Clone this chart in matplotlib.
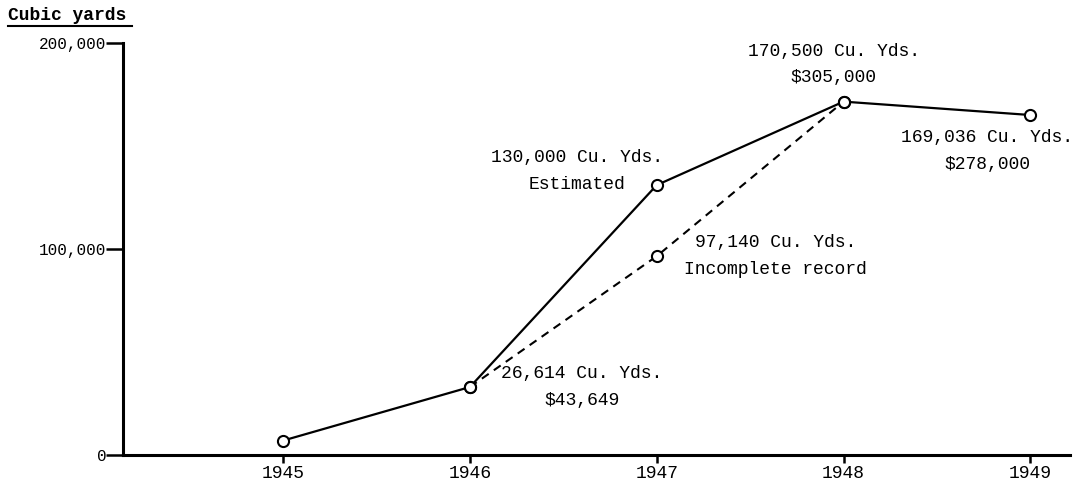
import matplotlib.pyplot as plt
from matplotlib.lines import Line2D

plt.rcParams['font.family'] = 'Liberation Mono'

years = [1945, 1946, 1947, 1948, 1949]
estimated = [7000, 33000, 131000, 171500, 165000]
incomplete_years = [1946, 1947, 1948]
incomplete = [33000, 96500, 171500]

yticks = [0, 100000, 200000]
ytick_labels = ['0', '100,000', '200,000']

fig = plt.figure(figsize=(10.79, 4.82), dpi=100)
ax = fig.add_axes([0.114, 0.056, 0.878, 0.855])

ax.plot(incomplete_years, incomplete, color='black', lw=1.5, ls=(0, (4, 3)),
        marker='o', ms=8, mfc='white', mec='black', mew=1.5, zorder=2)
ax.plot(years, estimated, color='black', lw=1.6,
        marker='o', ms=8, mfc='white', mec='black', mew=1.5, zorder=3)

ax.set_xlim(1944.143, 1949.214)
ax.set_ylim(0, 200000)

for s in ['top', 'right']:
    ax.spines[s].set_visible(False)
for s in ['left', 'bottom']:
    ax.spines[s].set_linewidth(2.2)

ax.set_xticks(years)
ax.set_xticklabels([str(y) for y in years], fontsize=13)
ax.set_yticks(yticks)
ax.set_yticklabels(ytick_labels, fontsize=11.5)
ax.tick_params(axis='y', direction='out', length=12, width=1.8, pad=0)
ax.tick_params(axis='x', direction='out', length=6, width=1.8, pad=1)

fs = 13
ls = 1.75
ax.annotate('170,500 Cu. Yds.\n$305,000', (1948, 171500), xytext=(-10, 37),
            textcoords='offset pixels', ha='center', va='center', fontsize=fs,
            linespacing=ls)
ax.annotate('169,036 Cu. Yds.\n$278,000', (1949, 165000), xytext=(-43, -36),
            textcoords='offset pixels', ha='center', va='center', fontsize=fs,
            linespacing=ls)
ax.annotate('130,000 Cu. Yds.\nEstimated', (1947, 131000), xytext=(-80, 14),
            textcoords='offset pixels', ha='center', va='center', fontsize=fs,
            linespacing=ls)
ax.annotate('97,140 Cu. Yds.\nIncomplete record', (1947, 96500), xytext=(119, 0),
            textcoords='offset pixels', ha='center', va='center', fontsize=fs,
            linespacing=ls)
ax.annotate('26,614 Cu. Yds.\n$43,649', (1946, 33000), xytext=(112, 0),
            textcoords='offset pixels', ha='center', va='center', fontsize=fs,
            linespacing=ls)

fig.text(8 / 1079, 1 - 15 / 482, 'Cubic yards', fontsize=13, fontweight='bold',
         ha='left', va='center')
fig.add_artist(Line2D([8 / 1079, 132 / 1079], [1 - 26 / 482, 1 - 26 / 482],
                      color='black', lw=1.5, transform=fig.transFigure))

fig.savefig('out.png', dpi=100)
